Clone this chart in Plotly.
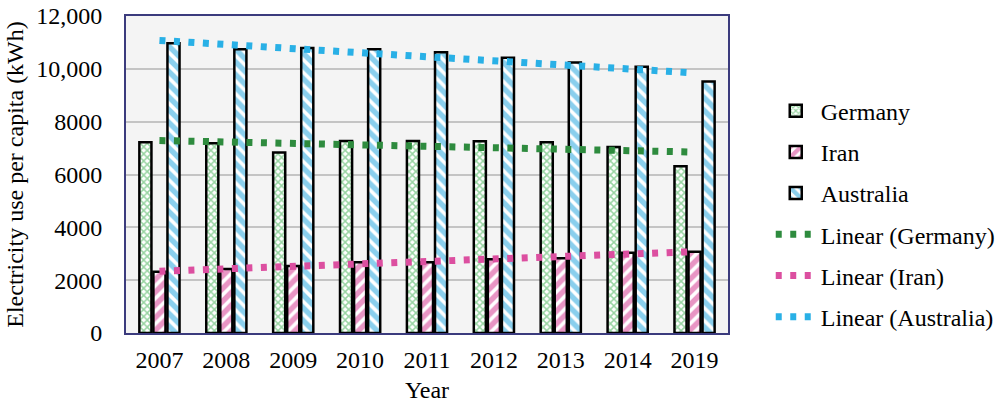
import numpy as np
import plotly.graph_objects as go

years = ["2007", "2008", "2009", "2010", "2011", "2012", "2013", "2014", "2019"]
germany = [7220, 7185, 6830, 7270, 7270, 7260, 7220, 7045, 6315]
iran = [2320, 2425, 2540, 2675, 2680, 2790, 2830, 3040, 3080]
australia = [10970, 10745, 10785, 10745, 10630, 10415, 10240, 10075, 9520]

y_tickvals = [0, 2000, 4000, 6000, 8000, 10000, 12000]
y_ticktext = ["0", "2000", "4000", "6000", "8000", "10,000", "12,000"]

FONT = "Liberation Serif, Times New Roman, serif"
FS = 24
GREEN = "#2fa843"
PINK = "#d22c8a"
BLUE = "#159fdc"

fig = go.Figure()

bar_specs = [
    ("Germany", germany, GREEN, "x", 5, 0.5),
    ("Iran", iran, PINK, "/", 9, 0.6),
    ("Australia", australia, BLUE, "\\", 9, 0.6),
]
for name, vals, col, shape, size, sol in bar_specs:
    fig.add_trace(go.Bar(
        x=years, y=vals, name=name, legendgroup=name,
        marker=dict(
            color="white",
            line=dict(color="black", width=2.5),
            pattern=dict(shape=shape, fgcolor=col, bgcolor="white",
                         size=size, solidity=sol, fillmode="overlay"),
        ),
    ))

# Linear trendlines (least-squares fit over category index, as in a spreadsheet trendline)
idx = np.arange(1, len(years) + 1)
for name, vals, col in [("Germany", germany, "#2e8b3e"),
                        ("Iran", iran, "#dc4fa0"),
                        ("Australia", australia, "#29b0e6")]:
    slope, intercept = np.polyfit(idx, vals, 1)
    ends = [slope * idx[0] + intercept, slope * idx[-1] + intercept]
    fig.add_trace(go.Scatter(
        x=[years[0], years[-1]], y=ends, mode="lines",
        name=f"Linear ({name})", legendgroup=f"lin{name}",
        line=dict(color=col, width=7, dash="6px,8.5px"),
    ))

fig.update_layout(
    width=1004, height=411,
    margin=dict(l=126, r=276, t=16, b=78, autoexpand=False),
    paper_bgcolor="white",
    plot_bgcolor="#f4f4f4",
    font=dict(family=FONT, size=FS, color="black"),
    barmode="group",
    bargap=0.37,
    bargroupgap=0.14,
    showlegend=True,
    legend=dict(
        x=1.071, y=0.771, xanchor="left", yanchor="top",
        font=dict(family=FONT, size=FS, color="black"),
        traceorder="grouped", tracegroupgap=7,
        bgcolor="rgba(0,0,0,0)", itemwidth=40,
    ),
)

fig.update_xaxes(
    type="category",
    showline=True, linecolor="#3b3b7d", linewidth=2, mirror=True,
    ticks="", showgrid=False,
    ticklabelstandoff=4,
    tickfont=dict(family=FONT, size=FS),
    title=dict(text="Year", font=dict(family=FONT, size=FS), standoff=9),
)
fig.update_yaxes(
    range=[0, 12000],
    tickvals=y_tickvals, ticktext=y_ticktext,
    showline=True, linecolor="#3b3b7d", linewidth=2, mirror=True,
    showgrid=True, gridcolor="#c4c4c4", gridwidth=1.5,
    zeroline=False, ticks="",
    ticklabelstandoff=17,
    tickfont=dict(family=FONT, size=FS),
    title=dict(text="Electricity use per capita (kWh)",
               font=dict(family=FONT, size=FS), standoff=6),
)

fig.write_html("out.html")
